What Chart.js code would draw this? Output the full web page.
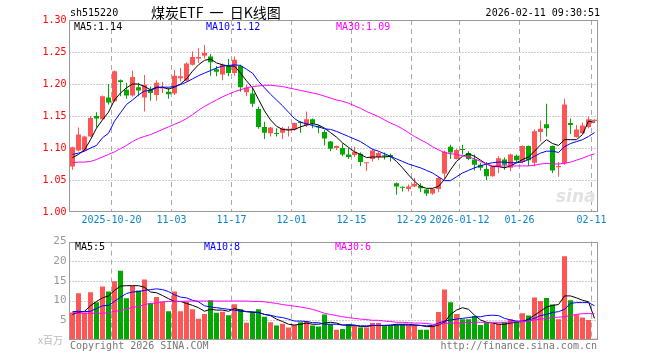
<!DOCTYPE html>
<html>
<head>
<meta charset="utf-8">
<script src="https://cdn.jsdelivr.net/npm/chart.js@4.4.1/dist/chart.umd.min.js"></script>
<style>
  body { margin: 0; background: #fff; width: 660px; height: 360px; position: relative; overflow: hidden; }
  canvas { position: absolute; left: 0; }
  .t { position: absolute; font: 10px "DejaVu Sans Mono", monospace; line-height: 12px; white-space: pre; color: #000; }
</style>
</head>
<body>
<canvas id="kline" width="660" height="232" style="top:0"></canvas>
<canvas id="vol" width="660" height="128" style="top:232px"></canvas>

<div class="t" style="left:70px;top:7px">sh515220</div>
<div class="t" style="left:151px;top:3px;font:14px 'Noto Sans CJK SC';line-height:18px;word-spacing:3px">煤炭ETF 一 日K线图</div>
<div class="t" style="right:60px;top:7px">2026-02-11 09:30:51</div>

<div class="t" style="left:74px;top:21px">MA5:1.14</div>
<div class="t" style="left:206px;top:21px;color:#0000ff">MA10:1.12</div>
<div class="t" style="left:336px;top:21px;color:#ff00ff">MA30:1.09</div>

<div class="t" style="left:75px;top:241px">MA5:5</div>
<div class="t" style="left:204px;top:241px;color:#0000ff">MA10:8</div>
<div class="t" style="left:335px;top:241px;color:#ff00ff">MA30:6</div>

<div class="t" style="left:38px;top:334px;color:#bbb;font:10px 'Noto Sans CJK SC';line-height:12px">x百万</div>
<div class="t" style="left:70px;top:340px;color:#777">Copyright 2026 SINA.COM</div>
<div class="t" style="right:63px;top:340px;color:#777">http://finance.sina.com.cn</div>
<div class="t" style="left:556px;top:186px;color:#e2e2e2;font:italic bold 17px 'DejaVu Sans';line-height:20px">sina</div>

<script>
// trading days shown, oldest first
const dates = [
  "10-09","10-10","10-13","10-14","10-15","10-16","10-17","10-20","10-21","10-22",
  "10-23","10-24","10-27","10-28","10-29","10-30","10-31","11-03","11-04","11-05",
  "11-06","11-07","11-10","11-11","11-12","11-13","11-14","11-17","11-18","11-19",
  "11-20","11-21","11-24","11-25","11-26","11-27","11-28","12-01","12-02","12-03",
  "12-04","12-05","12-08","12-09","12-10","12-11","12-12","12-15","12-16","12-17",
  "12-18","12-19","12-22","12-23","12-24","12-25","12-26","12-29","12-30","12-31",
  "01-05","01-06","01-07","01-08","01-09","01-12","01-13","01-14","01-15","01-16",
  "01-19","01-20","01-21","01-22","01-23","01-26","01-27","01-28","01-29","01-30",
  "02-02","02-03","02-04","02-05","02-06","02-09","02-10","02-11"
];

const tickDates  = ["10-20", "11-03", "11-17", "12-01", "12-15", "12-29", "01-12", "01-26", "02-11"];
const tickLabels = ["2025-10-20", "11-03", "11-17", "12-01", "12-15", "12-29", "2026-01-12", "01-26", "02-11"];

const opens = [
  1.071,1.096,1.096,1.118,1.150,1.145,1.179,1.173,1.206,1.191,
  1.182,1.195,1.179,1.191,1.183,1.193,1.188,1.185,1.209,1.205,
  1.230,1.240,1.244,1.243,1.223,1.215,1.228,1.217,1.228,1.187,
  1.185,1.161,1.133,1.123,1.123,1.124,1.128,1.129,1.141,1.135,
  1.145,1.134,1.125,1.110,1.100,1.100,1.090,1.089,1.091,1.076,
  1.083,1.086,1.088,1.089,1.045,1.039,1.036,1.040,1.041,1.035,
  1.029,1.036,1.060,1.102,1.083,1.098,1.092,1.082,1.074,1.067,
  1.056,1.070,1.082,1.069,1.088,1.078,1.103,1.077,1.125,1.137,
  1.103,1.070,1.076,1.139,1.117,1.123,1.133,1.142
];
const highs = [
  1.102,1.132,1.119,1.150,1.156,1.182,1.200,1.221,1.207,1.202,
  1.221,1.202,1.214,1.196,1.206,1.203,1.194,1.222,1.225,1.234,
  1.251,1.256,1.261,1.247,1.228,1.232,1.239,1.243,1.230,1.199,
  1.194,1.165,1.141,1.133,1.131,1.133,1.134,1.140,1.142,1.157,
  1.146,1.136,1.128,1.111,1.104,1.107,1.100,1.102,1.093,1.077,
  1.098,1.094,1.093,1.091,1.046,1.040,1.043,1.053,1.045,1.036,
  1.037,1.056,1.096,1.105,1.099,1.105,1.095,1.090,1.077,1.078,
  1.072,1.087,1.085,1.091,1.090,1.104,1.104,1.129,1.143,1.169,
  1.104,1.078,1.177,1.146,1.136,1.140,1.149,1.145
];
const lows = [
  1.066,1.095,1.095,1.117,1.132,1.144,1.168,1.172,1.181,1.177,
  1.180,1.181,1.157,1.174,1.174,1.186,1.177,1.183,1.204,1.204,
  1.229,1.233,1.240,1.213,1.212,1.206,1.212,1.213,1.188,1.181,
  1.164,1.130,1.114,1.118,1.118,1.114,1.118,1.127,1.124,1.133,
  1.131,1.123,1.104,1.095,1.097,1.087,1.083,1.086,1.072,1.064,
  1.079,1.081,1.082,1.079,1.027,1.032,1.032,1.039,1.031,1.025,
  1.027,1.031,1.052,1.083,1.082,1.090,1.081,1.065,1.065,1.050,
  1.055,1.061,1.066,1.064,1.078,1.076,1.072,1.071,1.110,1.118,
  1.061,1.055,1.074,1.122,1.116,1.122,1.131,1.140
];
const closes = [
  1.101,1.121,1.118,1.147,1.146,1.181,1.171,1.220,1.203,1.182,
  1.211,1.190,1.199,1.186,1.202,1.195,1.184,1.213,1.212,1.232,
  1.242,1.242,1.249,1.234,1.219,1.230,1.217,1.238,1.195,1.194,
  1.169,1.133,1.124,1.132,1.122,1.131,1.130,1.139,1.139,1.145,
  1.138,1.132,1.115,1.099,1.103,1.090,1.086,1.094,1.078,1.077,
  1.096,1.092,1.087,1.086,1.040,1.038,1.040,1.044,1.037,1.029,
  1.036,1.053,1.094,1.093,1.097,1.097,1.083,1.074,1.069,1.056,
  1.071,1.084,1.074,1.090,1.081,1.103,1.081,1.126,1.130,1.131,
  1.065,1.072,1.168,1.136,1.129,1.135,1.145,1.144
];

const ma5 = [
  1.085,1.090,1.097,1.113,1.131,1.144,1.156,1.175,1.186,1.194,
  1.200,1.200,1.196,1.191,1.195,1.195,1.192,1.195,1.200,1.208,
  1.220,1.230,1.237,1.239,1.233,1.230,1.228,1.228,1.217,1.205,
  1.194,1.176,1.158,1.144,1.134,1.129,1.128,1.129,1.133,1.136,
  1.138,1.136,1.131,1.124,1.117,1.108,1.101,1.094,1.090,1.085,
  1.086,1.086,1.086,1.087,1.079,1.069,1.058,1.048,1.040,1.037,
  1.037,1.040,1.051,1.066,1.079,1.087,1.091,1.087,1.081,1.075,
  1.071,1.071,1.069,1.072,1.077,1.082,1.086,1.095,1.105,1.113,
  1.107,1.104,1.113,1.113,1.113,1.121,1.142,1.140
];
const ma10 = [
  1.090,1.092,1.095,1.100,1.104,1.116,1.123,1.142,1.155,1.168,
  1.175,1.183,1.189,1.190,1.194,1.195,1.195,1.196,1.199,1.203,
  1.208,1.213,1.217,1.221,1.225,1.228,1.229,1.230,1.229,1.223,
  1.217,1.204,1.194,1.184,1.175,1.166,1.156,1.146,1.140,1.138,
  1.135,1.133,1.130,1.129,1.126,1.122,1.118,1.114,1.110,1.104,
  1.098,1.095,1.091,1.087,1.083,1.079,1.075,1.072,1.069,1.065,
  1.061,1.055,1.049,1.049,1.055,1.061,1.065,1.069,1.072,1.075,
  1.077,1.078,1.078,1.077,1.077,1.078,1.082,1.087,1.092,1.095,
  1.095,1.093,1.102,1.107,1.110,1.113,1.118,1.124
];
const ma30 = [
  1.077,1.078,1.078,1.079,1.082,1.086,1.090,1.094,1.099,1.104,
  1.110,1.115,1.118,1.121,1.125,1.129,1.133,1.137,1.141,1.146,
  1.152,1.159,1.165,1.170,1.175,1.180,1.184,1.188,1.191,1.194,
  1.196,1.197,1.198,1.198,1.197,1.196,1.194,1.192,1.190,1.188,
  1.186,1.184,1.181,1.178,1.175,1.173,1.170,1.166,1.162,1.157,
  1.153,1.149,1.144,1.139,1.135,1.130,1.124,1.118,1.113,1.108,
  1.102,1.097,1.093,1.091,1.090,1.088,1.086,1.083,1.079,1.075,
  1.072,1.072,1.072,1.072,1.072,1.072,1.072,1.073,1.075,1.076,
  1.075,1.075,1.076,1.078,1.081,1.084,1.088,1.091
];

// volume, millions
const volumes = [
  7.0,11.9,7.0,12.1,9.6,13.6,12.3,14.9,17.6,10.6,
  13.7,12.6,15.4,9.4,10.9,9.7,7.3,12.3,7.3,9.7,
  7.8,5.4,6.6,10.1,6.9,7.2,6.3,9.1,7.8,4.4,
  7.0,7.8,5.9,4.5,3.7,4.1,3.2,3.8,4.5,4.8,
  3.7,3.4,6.5,4.0,2.6,2.8,4.0,3.7,3.2,3.2,
  4.3,4.3,3.7,3.7,4.0,4.0,3.8,3.8,2.6,2.6,
  3.7,7.1,12.8,9.6,6.6,5.3,5.3,6.1,3.8,4.5,
  4.1,4.1,4.5,5.3,4.8,6.8,6.2,10.8,9.9,10.7,
  9.0,5.3,21.3,10.1,6.5,5.7,5.1,0.3
];
const volMa5 = [
  6.5,7.0,7.3,8.7,9.8,10.7,11.2,12.6,13.7,13.8,
  13.8,13.8,13.4,12.2,12.0,11.3,10.5,9.8,9.8,9.3,
  8.8,8.2,7.3,7.8,7.6,7.6,7.3,8.0,7.6,7.2,
  7.0,7.0,6.5,6.2,5.3,4.7,4.0,3.8,4.0,4.3,
  4.0,4.0,4.3,4.5,4.3,3.8,3.8,3.8,3.4,3.4,
  3.7,3.7,3.7,3.8,4.0,4.0,4.0,3.8,3.7,3.4,
  3.4,3.8,4.5,6.5,7.6,8.2,7.8,6.3,5.1,4.5,
  4.3,4.0,4.0,4.3,4.5,4.7,5.3,6.3,7.3,8.4,
  8.8,9.0,11.2,11.2,10.7,10.1,9.7,5.5
];
const volMa10 = [
  7.2,7.3,7.2,7.3,8.0,8.7,8.8,9.8,10.9,11.8,
  12.2,12.3,12.6,12.8,13.0,12.8,12.3,11.5,10.9,10.7,
  10.1,9.7,8.7,8.4,8.2,8.0,7.8,7.6,7.3,7.2,
  7.2,7.0,6.5,6.3,5.9,5.7,5.3,4.8,4.8,4.7,
  4.4,4.4,4.0,4.0,4.0,3.8,3.8,3.7,3.6,3.6,
  3.7,3.7,3.7,3.7,3.8,3.8,3.8,3.8,3.7,3.6,
  3.7,4.3,4.8,5.1,5.3,5.5,5.7,5.9,5.9,6.2,
  6.3,6.2,5.5,5.1,4.8,4.8,5.1,5.5,6.2,6.5,
  7.0,7.2,7.8,9.3,9.5,9.5,9.5,8.7
];
const volMa30 = [
  7.0,6.8,6.8,6.8,6.8,6.8,6.9,7.3,7.5,7.8,
  8.3,8.5,9.0,9.3,9.4,9.7,9.8,9.8,9.8,9.9,
  9.9,9.9,9.9,9.9,9.9,9.9,9.9,9.9,9.9,9.9,
  9.8,9.8,9.7,9.5,9.3,9.0,8.8,8.6,8.4,8.1,
  7.8,7.3,6.8,6.5,6.2,5.9,5.7,5.5,5.3,5.2,
  5.0,5.0,4.8,4.7,4.5,4.5,4.4,4.3,4.3,4.2,
  4.0,4.0,4.2,4.3,4.3,4.4,4.4,4.5,4.5,4.5,
  4.5,4.5,4.5,4.6,4.6,4.7,4.8,5.1,5.3,5.5,
  5.7,5.8,5.9,6.2,6.5,6.7,6.7,6.7
];

const RED = "#ff5555";
const GREEN = "#00a800";
const MONO = "'DejaVu Sans Mono', monospace";

const upColors = opens.map((o, i) => (closes[i] >= o ? RED : GREEN));

// dotted value lines + dashed date lines, then the gray frame
const panelGrid = {
  id: "panelGrid",
  beforeDatasetsDraw(chart) {
    const { ctx, chartArea: a, scales: { x, y } } = chart;
    ctx.save();
    ctx.lineWidth = 1;
    ctx.strokeStyle = "#999";
    ctx.setLineDash([1, 2]);
    y.ticks.forEach((t) => {
      if (Math.abs(t.value - y.min) < 1e-6 || Math.abs(t.value - y.max) < 1e-6) return;
      const py = Math.round(y.getPixelForValue(t.value)) + 0.5;
      ctx.beginPath();
      ctx.moveTo(a.left, py);
      ctx.lineTo(a.right, py);
      ctx.stroke();
    });
    ctx.strokeStyle = "#aaa";
    ctx.setLineDash([5, 4]);
    dates.forEach((d, i) => {
      if (!tickDates.includes(d)) return;
      const px = Math.floor(x.getPixelForValue(i) - 3) + 0.5;
      ctx.beginPath();
      ctx.moveTo(px, a.top);
      ctx.lineTo(px, a.bottom);
      ctx.stroke();
    });
    ctx.restore();
  },
  afterDraw(chart) {
    const { ctx, chartArea: a } = chart;
    const l = Math.floor(a.left) + 0.5, r = Math.floor(a.right) + 0.5;
    const t = Math.round(a.top) + 0.5, b = Math.round(a.bottom) - 0.5;
    ctx.save();
    ctx.strokeStyle = "#999";
    ctx.lineWidth = 1;
    ctx.strokeRect(l, t, r - l, b - t);
    ctx.restore();
  },
};

const xAxis = (showLabels) => ({
  type: "category",
  offset: true,
  grid: { display: false, drawTicks: false },
  border: { display: false },
  ticks: {
    display: showLabels,
    autoSkip: false,
    maxRotation: 0,
    padding: 2,
    labelOffset: -3,
    color: "#0a86c8",
    font: { family: MONO, size: 10 },
    callback: (v, i) => {
      const k = tickDates.indexOf(dates[i]);
      return k >= 0 ? tickLabels[k] : "";
    },
  },
  afterFit: (s) => { s.height = 20; },
});

const lineSet = (data, color) => ({
  type: "line",
  data,
  borderColor: color,
  borderWidth: 1,
  pointRadius: 0,
  tension: 0,
  fill: false,
  order: 0,
});

const common = {
  responsive: false,
  animation: false,
  events: [],
  plugins: { legend: { display: false }, tooltip: { enabled: false } },
};

new Chart(document.getElementById("kline"), {
  type: "bar",
  data: {
    labels: dates,
    datasets: [
      {
        data: lows.map((l, i) => [l, highs[i]]),
        backgroundColor: upColors,
        barThickness: 1,
        grouped: false,
        inflateAmount: 0,
        borderWidth: 0,
        order: 2,
      },
      {
        data: opens.map((o, i) => [o, closes[i]]),
        backgroundColor: upColors,
        barThickness: 5,
        minBarLength: 1,
        grouped: false,
        inflateAmount: 0,
        borderWidth: 0,
        order: 1,
      },
      lineSet(ma30, "#ff00ff"),
      lineSet(ma10, "#0000ff"),
      lineSet(ma5, "#000000"),
    ],
  },
  options: {
    ...common,
    layout: { padding: { top: 20, right: 62.5, left: 0, bottom: 0 } },
    scales: {
      x: xAxis(true),
      y: {
        min: 1.0,
        max: 1.3,
        ticks: {
          stepSize: 0.05,
          color: "#ff0000",
          padding: 3,
          font: { family: MONO, size: 10 },
          callback: (v) => Number(v).toFixed(2),
        },
        grid: { display: false, drawTicks: false },
        border: { display: false },
        afterFit: (s) => { s.width = 69.5; },
      },
    },
  },
  plugins: [panelGrid],
});

new Chart(document.getElementById("vol"), {
  type: "bar",
  data: {
    labels: dates,
    datasets: [
      {
        data: volumes,
        backgroundColor: upColors,
        barThickness: 5,
        inflateAmount: 0,
        borderWidth: 0,
        order: 1,
      },
      lineSet(volMa30, "#ff00ff"),
      lineSet(volMa10, "#0000ff"),
      lineSet(volMa5, "#000000"),
    ],
  },
  options: {
    ...common,
    layout: { padding: { top: 8, right: 62.5, left: 0, bottom: 0 } },
    scales: {
      x: xAxis(false),
      y: {
        min: 0,
        max: 25,
        ticks: {
          stepSize: 5,
          color: "#999",
          padding: 3,
          font: { family: MONO, size: 11 },
          callback: (v) => (v === 0 ? "" : v),
        },
        grid: { display: false, drawTicks: false },
        border: { display: false },
        afterFit: (s) => { s.width = 69.5; },
      },
    },
  },
  plugins: [panelGrid],
});
</script>
</body>
</html>
